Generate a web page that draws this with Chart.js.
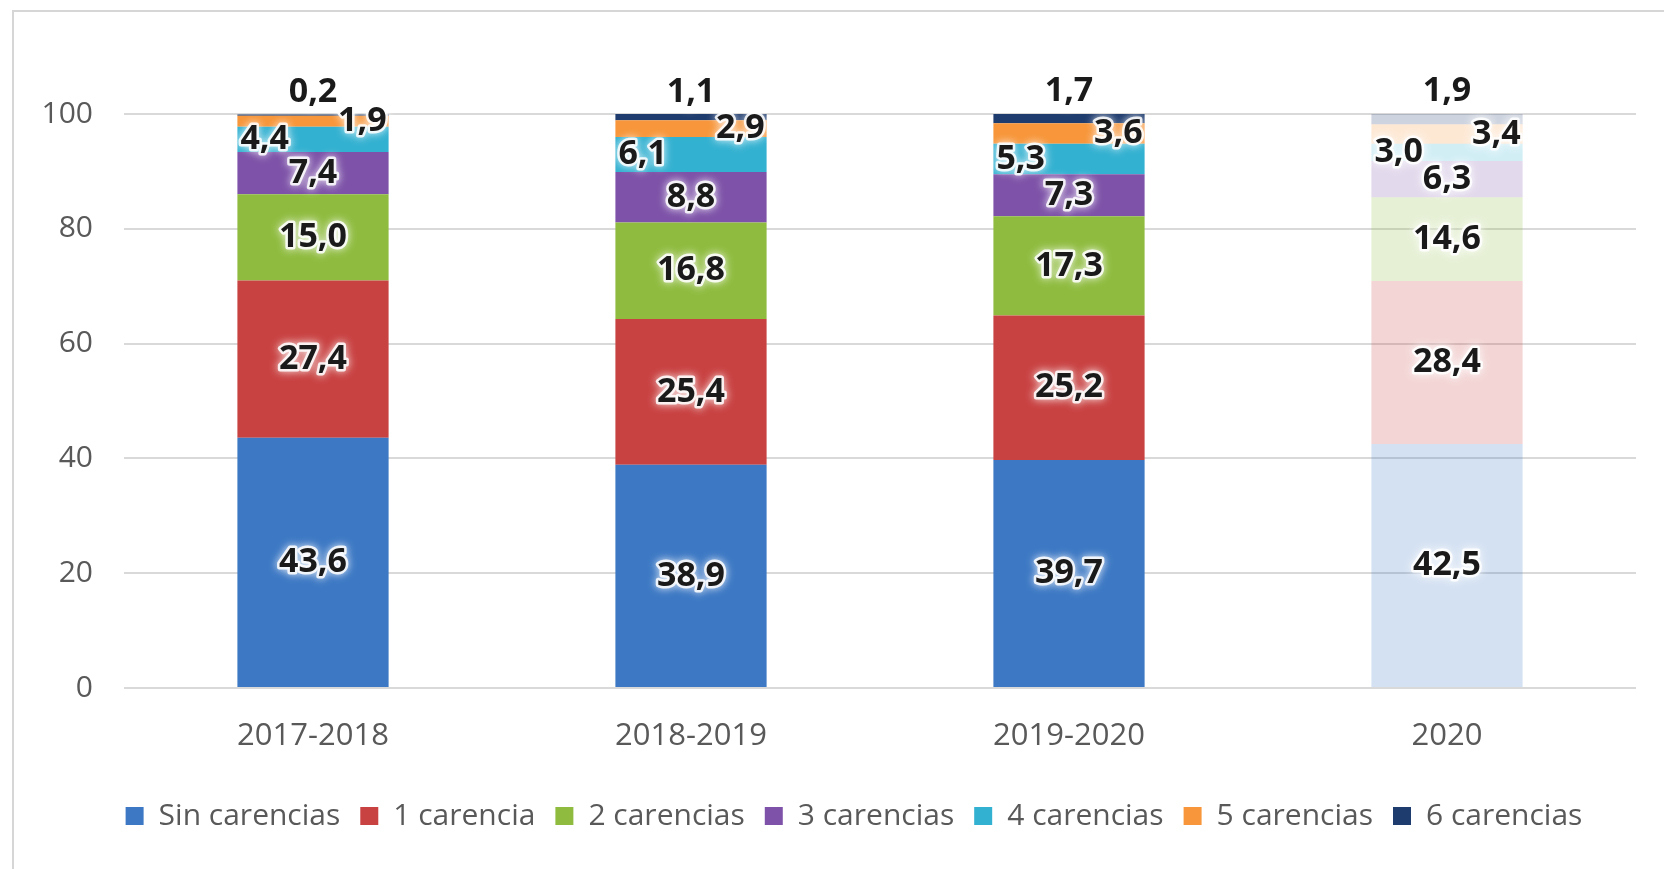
<!DOCTYPE html>
<html>
<head>
<meta charset="utf-8">
<script src="https://cdn.jsdelivr.net/npm/chart.js@4"></script>
<style>
  html, body { margin: 0; padding: 0; background: #fff; }
  #wrap { position: relative; width: 1664px; height: 869px; overflow: hidden; }
  #frame { position: absolute; left: 12px; top: 10px; width: 1700px; height: 900px;
           border-left: 2px solid #d6d6d6; border-top: 2px solid #d6d6d6; }
  canvas { position: absolute; left: 0; top: 0; }
</style>
</head>
<body>
<div id="wrap">
  <div id="frame"></div>
  <canvas id="chart" width="1664" height="869"></canvas>
</div>
<script>
// categories and series
const categories = ['2017-2018', '2018-2019', '2019-2020', '2020'];
const seriesNames = ['Sin carencias', '1 carencia', '2 carencias', '3 carencias', '4 carencias', '5 carencias', '6 carencias'];

const sinCarencias = [43.6, 38.9, 39.7, 42.5];
const unaCarencia = [27.4, 25.4, 25.2, 28.4];
const dosCarencias = [15.0, 16.8, 17.3, 14.6];
const tresCarencias = [7.4, 8.8, 7.3, 6.3];
const cuatroCarencias = [4.4, 6.1, 5.3, 3.0];
const cincoCarencias = [1.9, 2.9, 3.6, 3.4];
const seisCarencias = [0.2, 1.1, 1.7, 1.9];

const yTicks = [0, 20, 40, 60, 80, 100];

const seriesValues = [sinCarencias, unaCarencia, dosCarencias, tresCarencias,
  cuatroCarencias, cincoCarencias, seisCarencias];
const seriesColors = ['#3c78c4', '#c94242', '#8fbc3f', '#7d52a8', '#33b1d1', '#f7963a', '#1f3c6e'];

// the last bar (2020) is drawn faded
function fade(hex, a) {
  const n = parseInt(hex.slice(1), 16);
  const r = n >> 16, g = (n >> 8) & 255, b = n & 255;
  return `rgba(${r},${g},${b},${a})`;
}

const datasets = seriesValues.map((vals, i) => ({
  label: seriesNames[i],
  data: vals,
  backgroundColor: categories.map((c, j) => j === categories.length - 1 ? fade(seriesColors[i], 0.22) : seriesColors[i]),
  borderWidth: 0,
  barPercentage: 0.4,
  categoryPercentage: 1.0
}));

const fmt = v => v.toFixed(1).replace('.', ',');

// value labels with a white glow, placed like the original
const valueLabels = {
  id: 'valueLabels',
  afterDatasetsDraw(chart) {
    const ctx = chart.ctx;
    const last = chart.data.datasets.length - 1;
    ctx.save();
    ctx.font = 'bold 34px "Open Sans"';
    ctx.textBaseline = 'middle';
    chart.data.datasets.forEach((ds, di) => {
      const meta = chart.getDatasetMeta(di);
      meta.data.forEach((bar, i) => {
        const text = fmt(ds.data[i]);
        let x = bar.x, y = (bar.y + bar.base) / 2, align = 'center';
        if (di === last) {
          y = bar.y - 22;
        } else if (di === last - 1) {
          x = bar.x + bar.width / 2 - 2; align = 'right';
        } else if (di === last - 2) {
          x = bar.x - bar.width / 2 + 3; align = 'left';
        }
        ctx.textAlign = align;
        ctx.lineJoin = 'round';
        ctx.shadowColor = 'rgba(255,255,255,1)';
        ctx.shadowBlur = 9;
        ctx.strokeStyle = 'rgba(255,255,255,0.85)';
        ctx.lineWidth = 5;
        ctx.strokeText(text, x, y);
        ctx.shadowBlur = 0;
        ctx.fillStyle = '#1a1a1a';
        ctx.fillText(text, x, y);
      });
    });
    ctx.restore();
  }
};

// the legend in the original sits a little right of the canvas centre
const legendShift = {
  id: 'legendShift',
  afterLayout(chart) {
    chart.legend.left += 36;
    chart.legend.right += 36;
  }
};

new Chart(document.getElementById('chart').getContext('2d'), {
  type: 'bar',
  data: { labels: categories, datasets: datasets },
  options: {
    responsive: false,
    animation: false,
    layout: { padding: { top: 114, right: 28, bottom: 28, left: 0 } },
    plugins: {
      legend: {
        position: 'bottom',
        labels: {
          boxWidth: 18,
          boxHeight: 18,
          padding: 20,
          color: '#595959',
          font: { family: 'Open Sans', size: 30 }
        }
      },
      tooltip: { enabled: false }
    },
    scales: {
      x: {
        stacked: true,
        grid: { display: false },
        border: { display: false },
        ticks: { color: '#595959', padding: 22, font: { family: 'Open Sans', size: 31 } },
        afterFit(scale) { scale.height = 93; }
      },
      y: {
        stacked: true,
        min: 0,
        max: 100,
        afterBuildTicks(scale) { scale.ticks = yTicks.map(v => ({ value: v })); },
        grid: { color: '#d9d9d9', lineWidth: 2, drawTicks: false },
        border: { display: false },
        ticks: { color: '#595959', padding: 31, font: { family: 'Open Sans', size: 30 } },
        afterFit(scale) { scale.width = 124; }
      }
    }
  },
  plugins: [valueLabels, legendShift]
});
</script>
</body>
</html>
